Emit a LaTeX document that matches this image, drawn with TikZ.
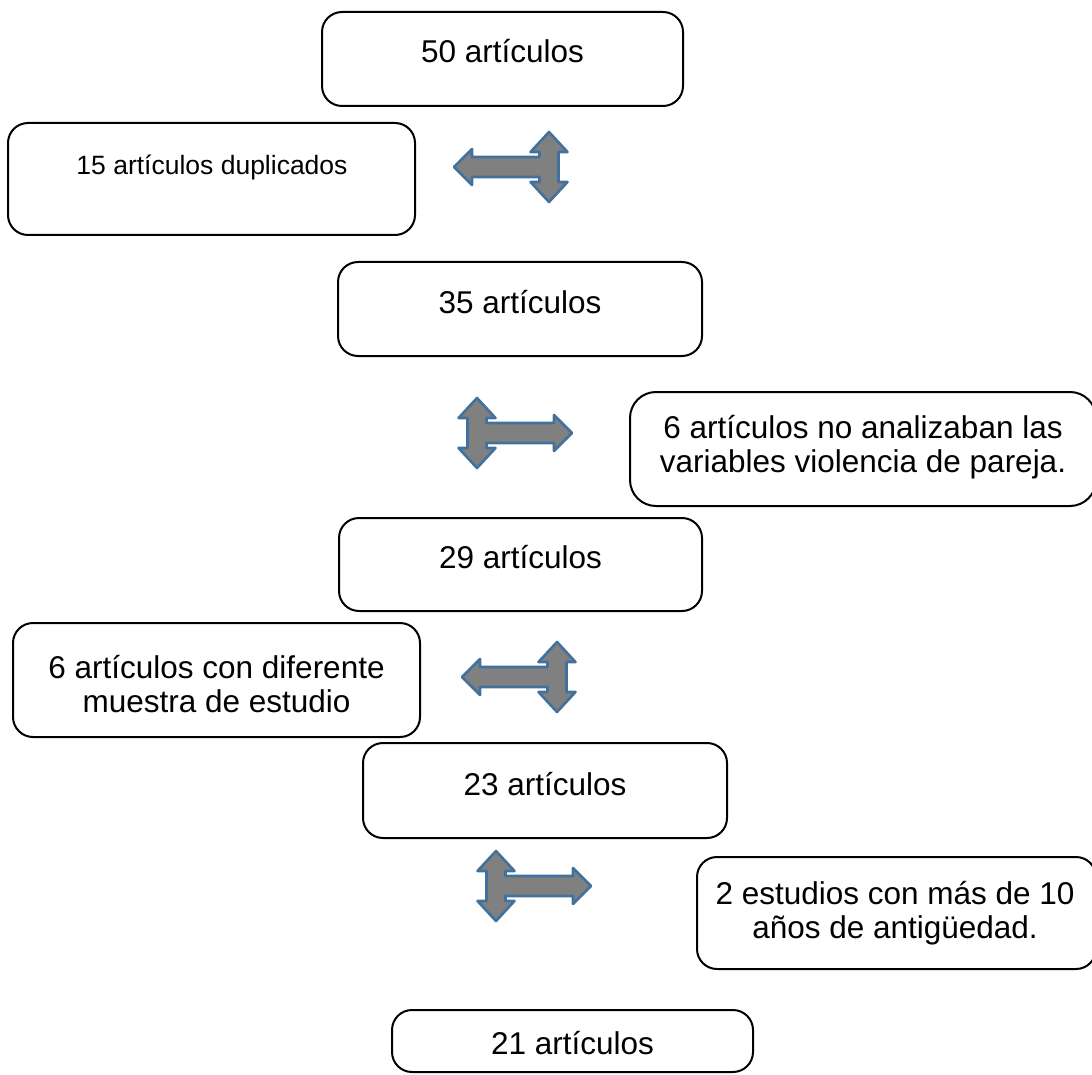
\documentclass[tikz,border=0pt]{standalone}
\usepackage{fontspec}
\setmainfont{Liberation Sans}
\definecolor{arrowgray}{RGB}{128,128,128}
\definecolor{arrowblue}{RGB}{65,113,156}
\begin{document}
\begin{tikzpicture}[x=1pt,y=-1pt,
  box/.style={draw=black,line width=2pt,rounded corners=20pt},
  bigtxt/.style={font=\fontsize{31.5}{34}\selectfont,align=center,inner sep=0pt},
  smalltxt/.style={font=\fontsize{26.5}{30}\selectfont,align=center,inner sep=0pt},
  arrowstyle/.style={fill=arrowgray,draw=arrowblue,line width=2.6pt,line join=round},
  tarrow/.pic={\path[arrowstyle] (0,-35) -- (18.5,-15) -- (9.5,-15) -- (9.5,15) -- (18.5,15) -- (0,35) -- (-18.5,15) -- (-9.5,15) -- (-9.5,10) -- (-77,10) -- (-77,18) -- (-95,0) -- (-77,-18) -- (-77,-10) -- (-9.5,-10) -- (-9.5,-15) -- (-18.5,-15) -- cycle;}
]
\useasboundingbox (0,0) rectangle (1092,1075);
\clip (0,0) rectangle (1092,1075);
% boxes
\draw[box] (322,12) rectangle (683,106);
\node[bigtxt] (t1) at (502.5,51) {50 artículos};
\draw[box] (8,123) rectangle (415,235);
\node[smalltxt] (t2) at (212,167) {15 artículos duplicados};
\draw[box] (338,262) rectangle (702,356);
\node[bigtxt] (t3) at (520,302) {35 artículos};
\draw[box,rounded corners=26pt] (630,392) rectangle (1096,506);
\node[bigtxt] (t4) at (863,447.5) {6 artículos no analizaban las\\variables violencia de pareja.};
\draw[box] (339,518) rectangle (702,611);
\node[bigtxt] (t5) at (520.5,557) {29 artículos};
\draw[box] (13,623) rectangle (420,737);
\node[bigtxt] (t6) at (216.5,684) {6 artículos con diferente\\muestra de estudio};
\draw[box] (363,743) rectangle (727,838);
\node[bigtxt] (t7) at (545,784) {23 artículos};
\draw[box] (697,857) rectangle (1096,969);
\node[bigtxt] (t8) at (895,913) {2 estudios con más de 10\\años de antigüedad.};
\draw[box] (392,1010) rectangle (753,1072);
\node[bigtxt] (t9) at (572.5,1043) {21 artículos};
% arrows
\pic at (549,167) {tarrow};
\pic[xscale=-1] at (477,433) {tarrow};
\pic at (557,677) {tarrow};
\pic[xscale=-1] at (496,886) {tarrow};
\end{tikzpicture}
\end{document}
